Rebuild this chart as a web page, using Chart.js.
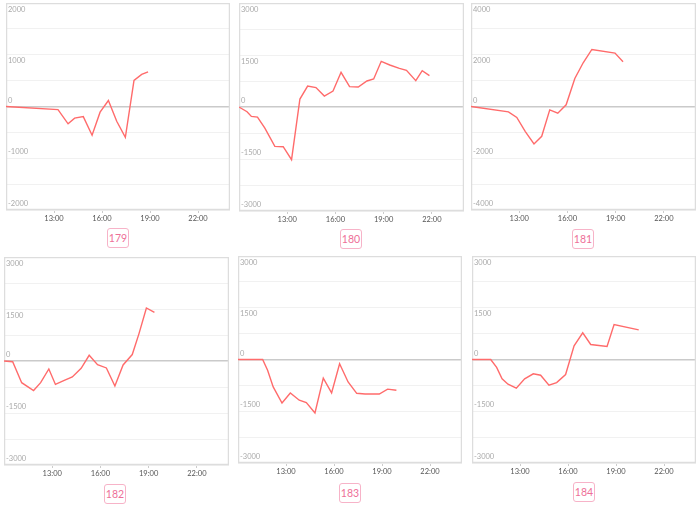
<!DOCTYPE html>
<html><head><meta charset="utf-8">
<script src="https://cdn.jsdelivr.net/npm/chart.js@4"></script>
<style>
body{margin:0;width:700px;height:509px;background:#fff;position:relative;overflow:hidden;font-family:Lato,"Open Sans",sans-serif}
.p{position:absolute}
.tag{position:absolute;width:20px;height:18px;border:1px solid #f7b3c8;border-radius:3px;color:#ee6f98;font-size:10.5px;line-height:18px;text-align:center;font-family:Lato,sans-serif}
</style></head><body>
<script>
// ---- data ----
const panelNames = ['179', '180', '181', '182', '183', '184'];
const yMaxes = [2000, 3000, 4000, 3000, 3000, 3000];
const xTickHours = [13, 16, 19, 22];

const times179  = [10.0, 13.25, 13.88, 14.29, 14.83, 15.38, 15.88, 16.4, 16.92, 17.46, 18.0, 18.48, 18.88];
const values179 = [0, -60, -335, -225, -195, -555, -110, 115, -285, -595, 505, 620, 670];

const times180  = [10.0, 10.5, 10.77, 11.15, 11.6, 12.23, 12.75, 13.27, 13.79, 14.27, 14.79, 15.31, 15.85, 16.35, 16.88, 17.42, 17.96, 18.38, 18.85, 19.38, 19.98, 20.42, 21.0, 21.4, 21.85];
const values180 = [0, -135, -270, -290, -605, -1135, -1145, -1520, 230, 605, 560, 317, 460, 1000, 587, 577, 750, 808, 1317, 1212, 1115, 1058, 760, 1048, 904];

const times181  = [10.0, 12.33, 12.85, 13.38, 13.92, 14.4, 14.9, 15.4, 15.92, 16.46, 16.98, 17.52, 18.96, 19.46];
const values181 = [0, -205, -425, -970, -1445, -1150, -130, -260, 65, 1085, 1690, 2205, 2065, 1730];

const times182  = [10.0, 10.54, 11.1, 11.84, 12.28, 12.79, 13.2, 13.75, 14.25, 14.8, 15.3, 15.82, 16.37, 16.9, 17.41, 17.98, 18.4, 18.86, 19.36];
const values182 = [0, -20, -625, -850, -625, -230, -675, -560, -460, -212, 165, -105, -200, -720, -115, 185, 790, 1530, 1405];

const times183  = [10.0, 11.54, 11.85, 12.2, 12.75, 13.27, 13.83, 14.27, 14.81, 15.33, 15.85, 16.35, 16.88, 17.42, 17.94, 18.83, 19.35, 19.9];
const values183 = [0, 0, -310, -795, -1260, -970, -1180, -1250, -1550, -540, -970, -125, -650, -980, -1000, -1000, -860, -890];

const times184  = [10.0, 11.17, 11.54, 11.88, 12.25, 12.77, 13.29, 13.83, 14.29, 14.81, 15.29, 15.85, 16.38, 16.92, 17.42, 18.44, 18.88, 20.42];
const values184 = [0, 0, -230, -560, -715, -830, -560, -415, -455, -745, -670, -435, 395, 775, 435, 380, 1015, 860];

const allTimes = [times179, times180, times181, times182, times183, times184];
const allValues = [values179, values180, values181, values182, values183, values184];

// ---- layout (box left, top, width, height; tag left, top) ----
const boxes = [
  [6, 3, 224, 207, 107, 228],
  [239, 3, 225, 208, 340, 229],
  [471, 3, 225, 207, 572, 229],
  [4, 257, 225, 208, 104, 484],
  [238, 256, 224, 207, 339, 483],
  [472, 256, 224, 207, 573, 482]
];
const X_AXIS_H = 14;

const boxPlugin = {
  id: 'boxBorder',
  beforeDatasetsDraw(chart) {
    const a = chart.chartArea, c = chart.ctx;
    c.save();
    c.strokeStyle = '#dddddd';
    c.lineWidth = 1.5;
    c.strokeRect(a.left + 0.5, a.top + 0.5, a.right - a.left - 1, a.bottom - a.top - 1);
    c.restore();
  }
};

panelNames.forEach((name, i) => {
  const [bl, bt, bw, bh, tl, tt] = boxes[i];
  const div = document.createElement('div');
  div.className = 'p';
  div.style.left = bl + 'px';
  div.style.top = bt + 'px';
  div.style.width = bw + 'px';
  div.style.height = (bh + X_AXIS_H) + 'px';
  const cv = document.createElement('canvas');
  div.appendChild(cv);
  document.body.appendChild(div);

  const tag = document.createElement('div');
  tag.className = 'tag';
  tag.style.left = tl + 'px';
  tag.style.top = tt + 'px';
  tag.textContent = name;
  document.body.appendChild(tag);

  const yMax = yMaxes[i];
  const labelStep = yMax / 2;
  const pts = allTimes[i].map((t, k) => ({x: t, y: allValues[i][k]}));

  new Chart(cv, {
    type: 'line',
    data: {datasets: [{
      data: pts,
      borderColor: '#ff6b6b',
      borderWidth: 1.4,
      pointRadius: 0,
      tension: 0,
      fill: false
    }]},
    options: {
      responsive: true,
      maintainAspectRatio: false,
      animation: false,
      layout: {padding: 0},
      plugins: {legend: {display: false}, tooltip: {enabled: false}},
      scales: {
        x: {
          type: 'linear', min: 10, max: 24,
          afterBuildTicks: s => { s.ticks = xTickHours.map(v => ({value: v})); },
          afterFit: s => { s.height = X_AXIS_H; s.paddingLeft = 0; s.paddingRight = 0; },
          ticks: {
            autoSkip: false, maxRotation: 0, padding: 1,
            color: '#555', font: {size: 7.5, family: 'Lato'},
            callback: v => v + ':00'
          },
          grid: {display: true, drawOnChartArea: false, drawTicks: true, tickLength: 3, tickColor: '#cccccc'},
          border: {display: false}
        },
        y: {
          min: -yMax, max: yMax,
          afterFit: s => { s.width = 0; s.paddingTop = 0; s.paddingBottom = 0; },
          ticks: {
            stepSize: yMax / 4, autoSkip: false, mirror: true, padding: 2,
            color: '#aaaaaa', font: {size: 7.5, family: 'Lato', lineHeight: 1.68},
            callback: v => {
              if (v % labelStep !== 0) return '';
              const s = String(v);
              return v > 0 ? ['', s] : [s, ''];
            }
          },
          grid: {
            drawTicks: false,
            color: c => c.tick && c.tick.value === 0 ? '#cacaca' : '#f1f1f1',
            lineWidth: c => c.tick && c.tick.value === 0 ? 1.6 : 1,
            borderDash: [2, 2]
          },
          border: {display: false}
        }
      }
    },
    plugins: [boxPlugin]
  });
});
</script>
</body></html>
